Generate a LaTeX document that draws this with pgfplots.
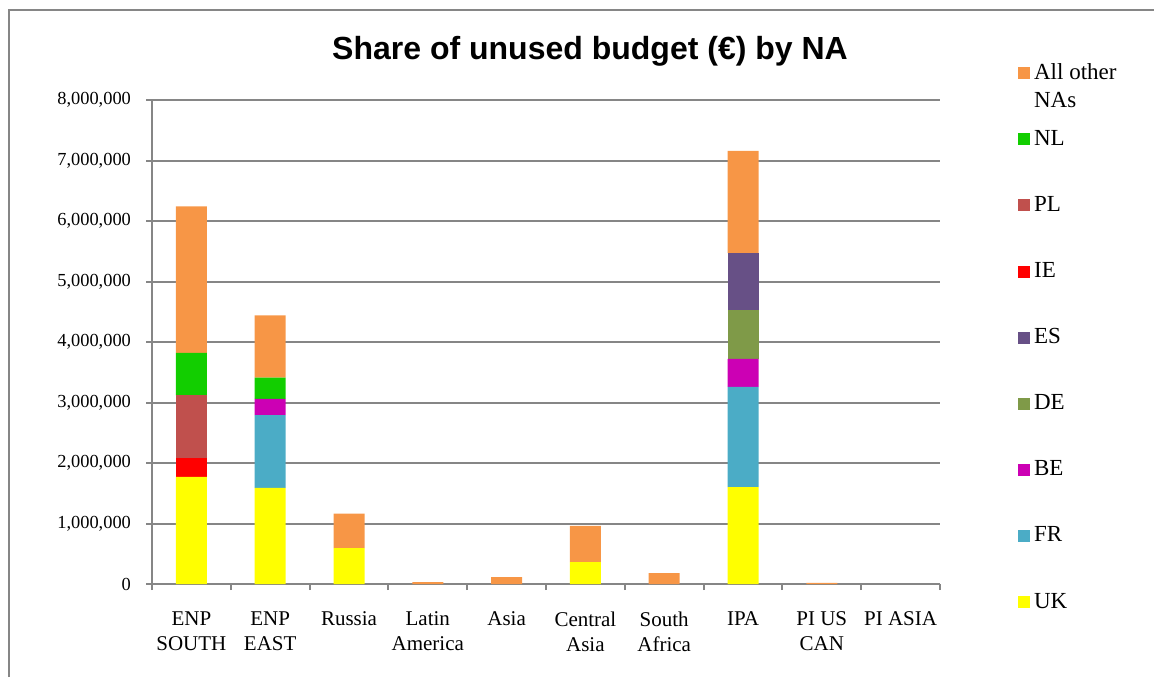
\documentclass[border=0pt]{standalone}
\usepackage{pgfplots}
\pgfplotsset{compat=1.18}
\usepackage{pgfplotstable}
\usepackage{fontspec}
\setmainfont{Liberation Serif}
\newfontfamily\titlefont{Liberation Sans}

\definecolor{cUK}{HTML}{FFFF00}
\definecolor{cFR}{HTML}{4BACC6}
\definecolor{cBE}{HTML}{CC00B4}
\definecolor{cDE}{HTML}{7F9A48}
\definecolor{cES}{HTML}{675086}
\definecolor{cIE}{HTML}{FF0000}
\definecolor{cPL}{HTML}{C0504D}
\definecolor{cNL}{HTML}{12CE00}
\definecolor{cOther}{HTML}{F79646}
\definecolor{axgray}{HTML}{868686}

% unused budget per NA
\pgfplotstableread{
cat UK      FR      BE     DE     ES     IE     PL      NL     Other
0   1770000 0       0      0      0      320000 1030000 700000 2420000
1   1590000 1200000 270000 0      0      0      0       350000 1030000
2   595000  0       0      0      0      0      0       0      570000
3   0       0       0      0      0      0      0       0      30000
4   0       0       0      0      0      0      0       0      115000
5   360000  0       0      0      0      0      0       0      600000
6   0       0       0      0      0      0      0       0      180000
7   1600000 1660000 460000 810000 940000 0      0       0      1690000
8   0       0       0      0      0      0      0       0      20000
9   0       0       0      0      0      0      0       0      0
}\budget

\begin{document}
\begin{tikzpicture}
\path[use as bounding box] (0,0) rectangle (577pt,338.5pt);
\draw[axgray, line width=1pt] (4.5pt,0) -- (4.5pt,333.5pt) -- (577pt,333.5pt);
\node[font=\titlefont\bfseries\fontsize{16}{19}\selectfont] at (295pt,313pt)
  {Share of unused budget (€) by NA};

\begin{axis}[
  at={(76pt,46.5pt)}, anchor=south west,
  scale only axis, width=394pt, height=242pt,
  ybar stacked, bar width=15.5pt,
  xmin=-0.5, xmax=9.5, ymin=0, ymax=8000000,
  axis x line*=bottom, axis y line*=left,
  axis line style={axgray, line width=1pt},
  ytick={0,1000000,...,8000000},
  scaled y ticks=false,
  /pgf/number format/fixed,
  /pgf/number format/1000 sep={,},
  /pgf/number format/assume math mode=true,
  y tick label style={font=\fontsize{9.2}{11}\selectfont, xshift=-4pt},
  ymajorgrids, grid style={axgray, line width=1pt},
  xtick={0,...,9},
  xticklabels={ENP\\SOUTH, ENP\\EAST, Russia, Latin\\America, Asia, Central\\Asia, South\\Africa, IPA, PI US\\CAN, PI ASIA},
  x tick label style={font=\fontsize{10.5}{12.5}\selectfont, align=center, yshift=-7.5pt},
  major x tick style={draw=none},
  minor xtick={-0.5,0.5,...,9.5},
  tick align=outside, tick pos=left,
  major tick length=3pt, minor tick length=3pt,
  tick style={axgray, line width=1pt},
  every axis plot/.append style={draw=none},
  reverse legend,
  legend cell align=left,
  legend image code/.code={\fill[#1] (0pt,-3pt) rectangle (6pt,3pt);},
  legend style={draw=none, fill=none, at={(1.091,1.093)}, anchor=north west,
    font=\fontsize{11.5}{14}\selectfont, row sep=20pt,
    /tikz/every even column/.style={column sep=1pt}},
]
\addplot[fill=cUK] table[x=cat, y=UK] {\budget};
\addplot[fill=cFR] table[x=cat, y=FR] {\budget};
\addplot[fill=cBE] table[x=cat, y=BE] {\budget};
\addplot[fill=cDE] table[x=cat, y=DE] {\budget};
\addplot[fill=cES] table[x=cat, y=ES] {\budget};
\addplot[fill=cIE] table[x=cat, y=IE] {\budget};
\addplot[fill=cPL] table[x=cat, y=PL] {\budget};
\addplot[fill=cNL] table[x=cat, y=NL] {\budget};
\addplot[fill=cOther] table[x=cat, y=Other] {\budget};
\legend{UK, FR, BE, DE, ES, IE, PL, NL,
  {\raisebox{0pt}[\height][0pt]{\vtop{\hbox{All other}\hbox{NAs}}}}}
\end{axis}
\end{tikzpicture}
\end{document}
